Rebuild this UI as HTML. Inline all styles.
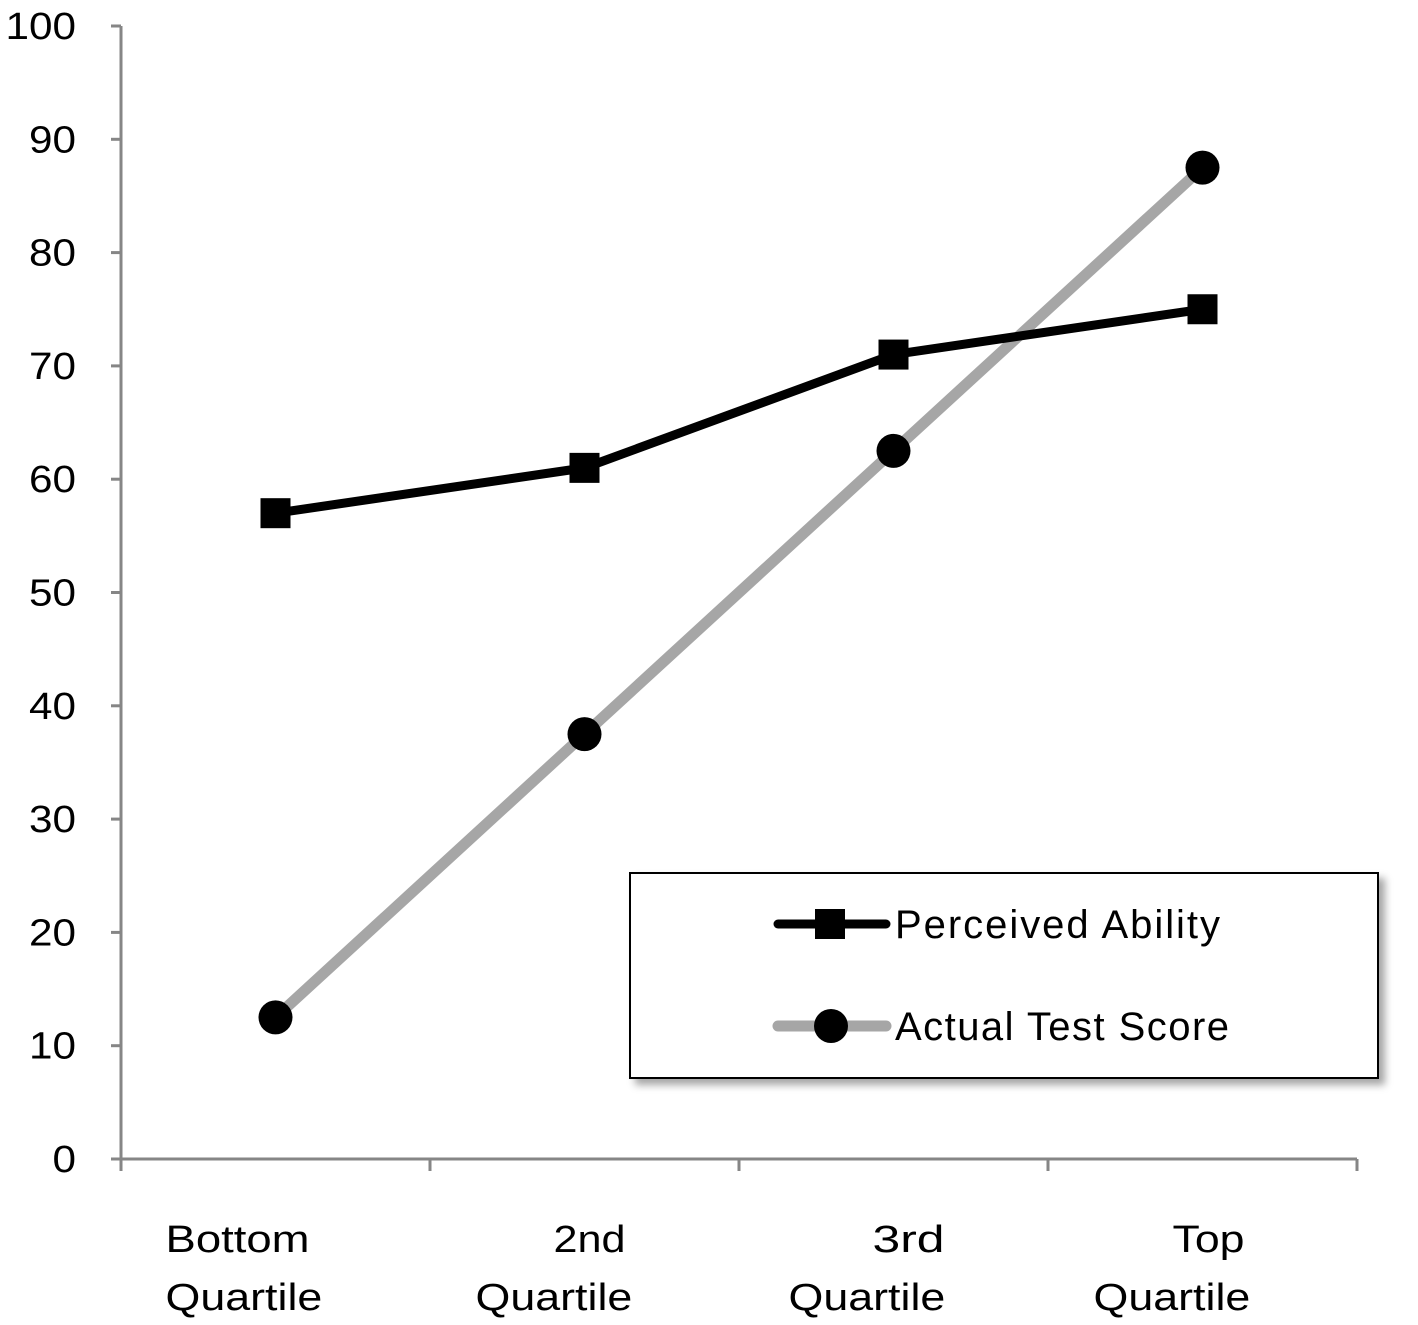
<!DOCTYPE html>
<html><head><meta charset="utf-8"><style>
body{margin:0;background:#fff;}
svg{display:block;font-family:"Liberation Sans",sans-serif;}
</style></head><body>
<svg id="chart" width="1418" height="1325" viewBox="0 0 1418 1325">
<defs><filter id="sh" x="-5%" y="-5%" width="115%" height="120%"><feDropShadow dx="6" dy="6" stdDeviation="4" flood-color="#000" flood-opacity="0.35"/></filter></defs>
<g id="axes"></g>
<g id="series"></g>
<g id="legend">
<rect x="630" y="873" width="748" height="205" fill="#fff" stroke="#000" stroke-width="2" filter="url(#sh)"/>
<g>
<line x1="778" y1="924" x2="886" y2="924" stroke="#000" stroke-width="9" stroke-linecap="round"/>
<rect x="815" y="909" width="30" height="30" fill="#000"/>
<text x="895" y="938" font-size="40" textLength="325" lengthAdjust="spacing" fill="#000">Perceived Ability</text></g>
<g>
<line x1="778" y1="1026" x2="886" y2="1026" stroke="#a6a6a6" stroke-width="11" stroke-linecap="round"/>
<circle cx="831" cy="1026" r="17" fill="#000"/>
<text x="895" y="1040" font-size="40" textLength="334" lengthAdjust="spacing" fill="#000">Actual Test Score</text></g>
</g>
</svg>
<script>
const categories=[["Bottom","Quartile"],["2nd","Quartile"],["3rd","Quartile"],["Top","Quartile"]];
const perceived=[57,61,71,75];
const actual=[12.5,37.5,62.5,87.5];
const yTicks=[0,10,20,30,40,50,60,70,80,90,100];
const NS="http://www.w3.org/2000/svg";
const X0=121,X1=1357,Y0=1159,Y1=26;
const y=v=>Y0-(v/100)*(Y0-Y1);
const bw=(X1-X0)/categories.length;
const x=i=>X0+bw*(i+0.5);
const line1Off=[-110,-31,-21,-30];
const line2Off=[-110,-109,-105,-109];
function mk(t,a,p){const e=document.createElementNS(NS,t);for(const k in a)e.setAttribute(k,a[k]);p.appendChild(e);return e;}
const ax=document.getElementById('axes');
let l=mk('line',{x1:X0,y1:Y1,x2:X0,y2:Y0,stroke:'#868686','stroke-width':3},ax);


l=mk('line',{x1:X0,y1:Y0,x2:X1,y2:Y0,stroke:'#868686','stroke-width':3},ax);


yTicks.forEach(v=>{
 mk('line',{x1:X0-10,y1:y(v),x2:X0,y2:y(v),stroke:'#868686','stroke-width':3},ax);
 const s=String(v);
 const t=mk('text',{x:76,y:y(v)+13,'font-size':38,'text-anchor':'end',fill:'#000',textLength:s.length*23.5,lengthAdjust:'spacingAndGlyphs'},ax);
 t.textContent=s;
 
 
});
for(let i=0;i<=categories.length;i++)mk('line',{x1:X0+bw*i,y1:Y0,x2:X0+bw*i,y2:Y0+12,stroke:'#868686','stroke-width':3},ax);
categories.forEach((c,i)=>{
 const g=mk('g',{},ax);
 
 
 const a=mk('text',{x:x(i)+line1Off[i],y:1252,'font-size':38,fill:'#000',textLength:c[0].length*24,lengthAdjust:'spacingAndGlyphs'},g);a.textContent=c[0];
 const b=mk('text',{x:x(i)+line2Off[i],y:1310,'font-size':38,fill:'#000',textLength:c[1].length*19.6,lengthAdjust:'spacingAndGlyphs'},g);b.textContent=c[1];
});
const se=document.getElementById('series');
let p=mk('polyline',{points:actual.map((v,i)=>x(i)+','+y(v)).join(' '),fill:'none',stroke:'#a6a6a6','stroke-width':11,'stroke-linejoin':'round'},se);


p=mk('polyline',{points:perceived.map((v,i)=>x(i)+','+y(v)).join(' '),fill:'none',stroke:'#000','stroke-width':9,'stroke-linejoin':'round'},se);


perceived.forEach((v,i)=>{
 const r=mk('rect',{x:x(i)-15,y:y(v)-15,width:30,height:30,fill:'#000'},se);
 
 
});
actual.forEach((v,i)=>{
 const c=mk('circle',{cx:x(i),cy:y(v),r:17,fill:'#000'},se);
 
 
});
</script>
</body></html>
